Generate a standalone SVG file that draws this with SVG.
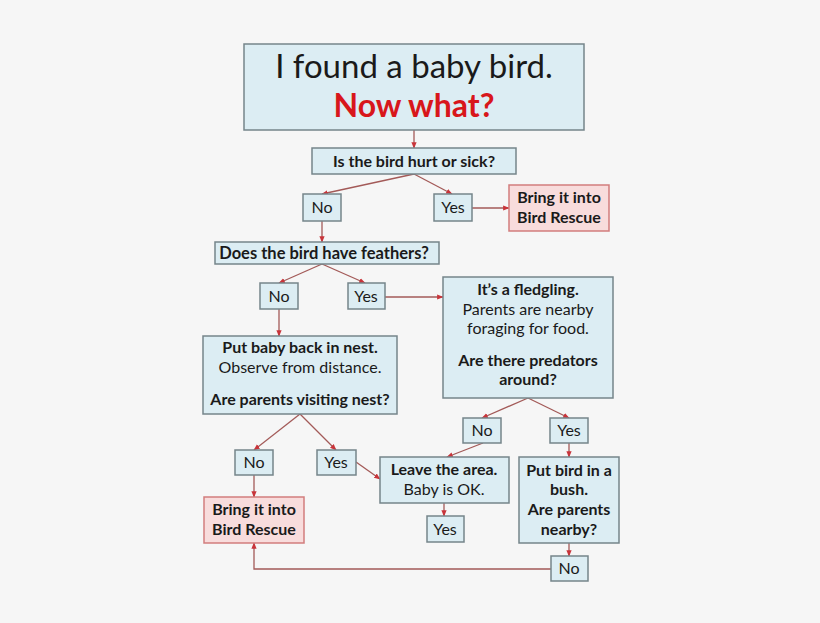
<svg xmlns="http://www.w3.org/2000/svg" width="820" height="623" viewBox="0 0 820 623">
<style>
.bg{fill:#f6f6f6}
.box{fill:#dcedf3;stroke:#76858a;stroke-width:1.5}
.red{fill:#f8dcdc;stroke:#d27d7d;stroke-width:1.5}
text{font-family:Lato,"Liberation Sans",sans-serif;fill:#1a1a1a;text-anchor:middle}
.t{font-size:16px}
.b{font-size:16px;font-weight:bold}
.c line,.c path,.c polyline{stroke:#a35a58;stroke-width:1.3;fill:none}
</style>
<defs>
<marker id="ah" viewBox="0 0 10 10" refX="9" refY="5" markerWidth="5" markerHeight="5" orient="auto">
<path d="M0,1 L10,5 L0,9 z" fill="#c8343a"/>
</marker>
</defs>
<rect class="bg" x="0" y="0" width="820" height="623"/>
<g class="c">
<line x1="414" y1="130" x2="414" y2="148" marker-end="url(#ah)"/>
<line x1="414" y1="174" x2="322" y2="194" marker-end="url(#ah)"/>
<line x1="414" y1="174" x2="452" y2="194" marker-end="url(#ah)"/>
<line x1="472" y1="208" x2="509" y2="208" marker-end="url(#ah)"/>
<line x1="322" y1="221" x2="322" y2="242" marker-end="url(#ah)"/>
<line x1="322" y1="264" x2="279" y2="283" marker-end="url(#ah)"/>
<line x1="322" y1="264" x2="365" y2="283" marker-end="url(#ah)"/>
<line x1="385" y1="297" x2="443" y2="297" marker-end="url(#ah)"/>
<line x1="279" y1="309" x2="279" y2="336" marker-end="url(#ah)"/>
<line x1="528" y1="398" x2="482" y2="418" marker-end="url(#ah)"/>
<line x1="528" y1="398" x2="569" y2="418" marker-end="url(#ah)"/>
<line x1="300" y1="414" x2="254" y2="450" marker-end="url(#ah)"/>
<line x1="300" y1="414" x2="336" y2="450" marker-end="url(#ah)"/>
<line x1="356" y1="462" x2="380" y2="479" marker-end="url(#ah)"/>
<line x1="483" y1="443" x2="447" y2="457" marker-end="url(#ah)"/>
<line x1="254" y1="475" x2="254" y2="497" marker-end="url(#ah)"/>
<line x1="444" y1="503" x2="444" y2="516" marker-end="url(#ah)"/>
<line x1="569" y1="443" x2="569" y2="457" marker-end="url(#ah)"/>
<line x1="569" y1="543" x2="569" y2="556" marker-end="url(#ah)"/>
<polyline points="551,569 254,569 254,543" marker-end="url(#ah)"/>
</g>
<g id="title">
<rect class="box" x="244" y="44" width="340" height="86"/>
<text x="414" y="78" style="font-size:33px">I found a baby bird.</text>
<text x="414" y="117" style="font-size:32px;font-weight:bold;fill:#d8161b">Now what?</text>
</g>
<g id="q1">
<rect class="box" x="312" y="148" width="204" height="26"/>
<text class="b" x="414" y="167">Is the bird hurt or sick?</text>
</g>
<g id="no1"><rect class="box" x="303" y="194" width="38" height="27"/><text class="t" x="322" y="213">No</text></g>
<g id="yes1"><rect class="box" x="434" y="194" width="38" height="27"/><text class="t" x="453" y="213">Yes</text></g>
<g id="rescue1">
<rect class="red" x="509" y="185" width="100" height="46"/>
<text class="b" x="559" y="203">Bring it into</text>
<text class="b" x="559" y="223">Bird Rescue</text>
</g>
<g id="q2">
<rect class="box" x="215" y="242" width="224" height="22"/>
<text class="b" x="324" y="259" style="font-size:16.5px">Does the bird have feathers?</text>
</g>
<g id="no2"><rect class="box" x="260" y="283" width="38" height="26"/><text class="t" x="279" y="302">No</text></g>
<g id="yes2"><rect class="box" x="348" y="283" width="37" height="26"/><text class="t" x="366" y="302">Yes</text></g>
<g id="fledgling">
<rect class="box" x="443" y="277" width="170" height="121"/>
<text class="b" x="528" y="295">It’s a fledgling.</text>
<text class="t" x="528" y="315">Parents are nearby</text>
<text class="t" x="528" y="334">foraging for food.</text>
<text class="b" x="528" y="366">Are there predators</text>
<text class="b" x="528" y="385">around?</text>
</g>
<g id="nest">
<rect class="box" x="203" y="336" width="194" height="78"/>
<text class="b" x="300" y="353">Put baby back in nest.</text>
<text class="t" x="300" y="373">Observe from distance.</text>
<text class="b" x="300" y="405">Are parents visiting nest?</text>
</g>
<g id="no4"><rect class="box" x="463" y="418" width="38" height="25"/><text class="t" x="482" y="436">No</text></g>
<g id="yes4"><rect class="box" x="550" y="418" width="38" height="25"/><text class="t" x="569" y="436">Yes</text></g>
<g id="no3"><rect class="box" x="235" y="450" width="38" height="25"/><text class="t" x="254" y="468">No</text></g>
<g id="yes3"><rect class="box" x="317" y="450" width="39" height="25"/><text class="t" x="336" y="468">Yes</text></g>
<g id="leave">
<rect class="box" x="380" y="457" width="129" height="46"/>
<text class="b" x="444" y="475">Leave the area.</text>
<text class="t" x="444" y="495">Baby is OK.</text>
</g>
<g id="bush">
<rect class="box" x="519" y="457" width="100" height="86"/>
<text class="b" x="569" y="476">Put bird in a</text>
<text class="b" x="569" y="495">bush.</text>
<text class="b" x="569" y="515">Are parents</text>
<text class="b" x="569" y="535">nearby?</text>
</g>
<g id="rescue2">
<rect class="red" x="204" y="497" width="100" height="46"/>
<text class="b" x="254" y="515">Bring it into</text>
<text class="b" x="254" y="535">Bird Rescue</text>
</g>
<g id="yes5"><rect class="box" x="427" y="516" width="37" height="26"/><text class="t" x="445" y="535">Yes</text></g>
<g id="no5"><rect class="box" x="551" y="556" width="37" height="25"/><text class="t" x="569" y="574">No</text></g>
</svg>
